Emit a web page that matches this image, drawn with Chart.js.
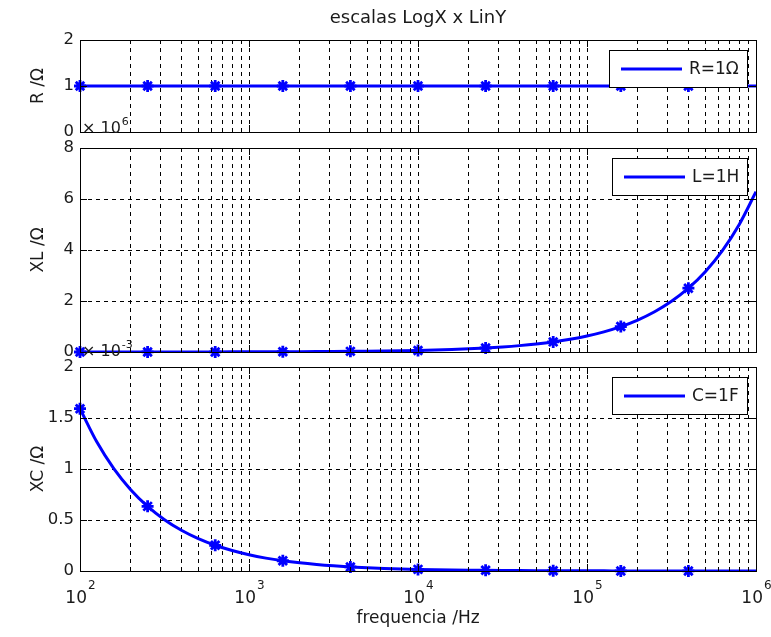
<!DOCTYPE html>
<html>
<head>
<meta charset="utf-8">
<script src="https://cdn.jsdelivr.net/npm/chart.js@4/dist/chart.umd.min.js"></script>
<style>
  html, body { margin: 0; padding: 0; background: #fff; }
  #wrap { position: relative; width: 771px; height: 637px; background: #fff; }
  #wrap canvas { position: absolute; left: 0; top: 0; }
</style>
</head>
<body>
<div id="wrap">
  <canvas id="panelR" width="771" height="637"></canvas>
  <canvas id="panelL" width="771" height="637"></canvas>
  <canvas id="panelC" width="771" height="637"></canvas>
</div>
<script>
// Frequency samples (Hz), 10 per decade from 100 Hz to 1 MHz
const freq = [
  100, 125.9, 158.5, 199.5, 251.2, 316.2, 398.1, 501.2, 631.0, 794.3,
  1000, 1259, 1585, 1995, 2512, 3162, 3981, 5012, 6310, 7943,
  10000, 12589, 15849, 19953, 25119, 31623, 39811, 50119, 63096, 79433,
  100000, 125893, 158489, 199526, 251189, 316228, 398107, 501187, 630957, 794328,
  1000000
];

// Resistance R (ohm)
const resistance = [
  1, 1, 1, 1, 1, 1, 1, 1, 1, 1,
  1, 1, 1, 1, 1, 1, 1, 1, 1, 1,
  1, 1, 1, 1, 1, 1, 1, 1, 1, 1,
  1, 1, 1, 1, 1, 1, 1, 1, 1, 1,
  1
];

// Inductive reactance XL (ohm)
const reactanceL = [
  628.3, 791.0, 995.8, 1253.7, 1578.3, 1986.9, 2501.4, 3149.0, 3964.4, 4990.9,
  6283, 7910, 9958, 12537, 15783, 19869, 25014, 31490, 39644, 49909,
  62832, 79100, 99583, 125367, 157830, 198692, 250138, 314903, 396442, 499091,
  628319, 791004, 995830, 1253667, 1578297, 1986918, 2501380, 3149030, 3964422, 4990905,
  6283185
];

// Capacitive reactance XC (ohm)
const reactanceC = [
  1.5915e-3, 1.2642e-3, 1.0042e-3, 7.977e-4, 6.336e-4, 5.033e-4, 3.998e-4, 3.176e-4, 2.522e-4, 2.004e-4,
  1.5915e-4, 1.2642e-4, 1.0042e-4, 7.977e-5, 6.336e-5, 5.033e-5, 3.998e-5, 3.176e-5, 2.522e-5, 2.004e-5,
  1.5915e-5, 1.2642e-5, 1.0042e-5, 7.977e-6, 6.336e-6, 5.033e-6, 3.998e-6, 3.176e-6, 2.522e-6, 2.004e-6,
  1.5915e-6, 1.2642e-6, 1.0042e-6, 7.977e-7, 6.336e-7, 5.033e-7, 3.998e-7, 3.176e-7, 2.522e-7, 2.004e-7,
  1.5915e-7
];

// Every 4th sample carries a star marker (the last sample has none)
const markerStep = 4;

// Log-x grid positions and decade labels
const xGridTicks = [
  100, 200, 300, 400, 500, 600, 700, 800, 900,
  1000, 2000, 3000, 4000, 5000, 6000, 7000, 8000, 9000,
  10000, 20000, 30000, 40000, 50000, 60000, 70000, 80000, 90000,
  100000, 200000, 300000, 400000, 500000, 600000, 700000, 800000, 900000,
  1000000
];
const xDecades = [100, 1000, 10000, 100000, 1000000];
const xDecadeExponents = ['2', '3', '4', '5', '6'];

// Y tick values and labels per panel
const yTicksR = [0, 1, 2];
const yLabelsR = ['0', '1', '2'];
const yTicksL = [0, 2e6, 4e6, 6e6, 8e6];
const yLabelsL = ['0', '2', '4', '6', '8'];
const yTicksC = [0, 0.0005, 0.001, 0.0015, 0.002];
const yLabelsC = ['0', '0.5', '1', '1.5', '2'];

const BLUE = '#0000ff';
const INK = '#1a1a1a';
const FONT = '"DejaVu Sans", "Liberation Sans", sans-serif';

Chart.defaults.font.family = FONT;
Chart.defaults.font.size = 16;
Chart.defaults.color = INK;

const alignPx = v => Math.round(v - 0.5) + 0.5;

function drawPowerOfTen(ctx, cx, baseY, exp, mainSize, supSize, supRise, centered) {
  ctx.font = mainSize + 'px ' + FONT;
  const w1 = ctx.measureText('10').width;
  ctx.font = supSize + 'px ' + FONT;
  const w2 = ctx.measureText(exp).width;
  const x0 = centered ? cx - (w1 + w2) / 2 : cx;
  ctx.textAlign = 'left';
  ctx.textBaseline = 'alphabetic';
  ctx.font = mainSize + 'px ' + FONT;
  ctx.fillText('10', x0, baseY);
  ctx.font = supSize + 'px ' + FONT;
  ctx.fillText(exp, x0 + w1 + 1, baseY - supRise);
}

function panelDecor(p) {
  return {
    id: 'decor',
    afterDatasetsDraw(chart) {
      const { ctx, chartArea: a, scales: { x, y } } = chart;
      ctx.save();
      ctx.setLineDash([]);
      ctx.strokeStyle = '#000';
      ctx.lineWidth = 1;

      // inward tick marks on all four sides
      ctx.beginPath();
      x.ticks.forEach(t => {
        const px = alignPx(x.getPixelForValue(t.value));
        const len = xDecades.includes(t.value) ? 7 : 4;
        ctx.moveTo(px, a.top); ctx.lineTo(px, a.top + len);
        ctx.moveTo(px, a.bottom); ctx.lineTo(px, a.bottom - len);
      });
      y.ticks.forEach(t => {
        const py = alignPx(y.getPixelForValue(t.value));
        ctx.moveTo(a.left, py); ctx.lineTo(a.left + 7, py);
        ctx.moveTo(a.right, py); ctx.lineTo(a.right - 7, py);
      });
      ctx.stroke();

      // axes box
      const l = alignPx(a.left), r = alignPx(a.right), tp = alignPx(a.top), bt = alignPx(a.bottom);
      ctx.strokeRect(l, tp, r - l, bt - tp);

      // legend box
      const label = chart.data.datasets[0].label;
      ctx.font = '17px ' + FONT;
      const tw = ctx.measureText(label).width;
      const bw = Math.round(tw + 88), bh = 37;
      const bx = Math.round(a.right - 9 - bw), by = Math.round(a.top + 10);
      ctx.fillStyle = '#fff';
      ctx.fillRect(bx, by, bw, bh);
      ctx.strokeStyle = '#000';
      ctx.lineWidth = 1;
      ctx.strokeRect(bx + 0.5, by + 0.5, bw, bh);
      ctx.strokeStyle = BLUE;
      ctx.lineWidth = 3;
      ctx.beginPath();
      ctx.moveTo(bx + 12, by + bh / 2 + 0.5);
      ctx.lineTo(bx + 73, by + bh / 2 + 0.5);
      ctx.stroke();
      ctx.fillStyle = INK;
      ctx.textAlign = 'left';
      ctx.textBaseline = 'middle';
      ctx.fillText(label, bx + 80, by + bh / 2 + 1);

      ctx.fillStyle = INK;
      // axis multiplier
      if (p.expo) {
        const base = a.top - p.expoGap;
        ctx.font = '16px ' + FONT;
        ctx.textAlign = 'left';
        ctx.textBaseline = 'alphabetic';
        ctx.fillText('\u00d7', a.left + 2, base);
        const wx = ctx.measureText('\u00d7 ').width;
        drawPowerOfTen(ctx, a.left + 2 + wx, base, p.expo, 16, 11, 8, false);
      }

      // figure title
      if (p.title) {
        ctx.font = '18px ' + FONT;
        ctx.textAlign = 'center';
        ctx.textBaseline = 'alphabetic';
        ctx.fillText(p.title, (a.left + a.right) / 2, 23);
      }

      // decade labels and x-axis title
      if (p.xTitle) {
        xDecades.forEach((v, i) => {
          drawPowerOfTen(ctx, x.getPixelForValue(v), 603, xDecadeExponents[i], 17, 12, 14, true);
        });
        ctx.font = '17px ' + FONT;
        ctx.textAlign = 'center';
        ctx.textBaseline = 'alphabetic';
        ctx.fillText(p.xTitle, (a.left + a.right) / 2, 623);
      }
      ctx.restore();
    }
  };
}

function makePanel(id, p) {
  const line = freq.map((f, i) => ({ x: f, y: p.values[i] }));
  const marks = freq
    .map((f, i) => ({ x: f, y: p.values[i], i }))
    .filter(d => d.i % markerStep === 0 && d.i < freq.length - 1)
    .map(d => ({ x: d.x, y: d.y }));
  return new Chart(document.getElementById(id), {
    type: 'line',
    data: {
      datasets: [
        {
          label: p.label,
          data: line,
          borderColor: BLUE,
          borderWidth: 3,
          pointRadius: 0,
          cubicInterpolationMode: 'monotone',
          fill: false
        },
        {
          label: p.label + ' *',
          data: marks,
          showLine: false,
          pointStyle: 'star',
          pointRadius: 6,
          borderWidth: 2.8,
          borderColor: BLUE,
          backgroundColor: BLUE,
          clip: false
        }
      ]
    },
    options: {
      responsive: false,
      animation: false,
      events: [],
      layout: { padding: { left: 0, right: 15, top: p.top, bottom: 637 - p.bottom } },
      plugins: { legend: { display: false }, tooltip: { enabled: false } },
      scales: {
        x: {
          type: 'logarithmic',
          min: 100,
          max: 1000000,
          afterBuildTicks: s => { s.ticks = xGridTicks.map(v => ({ value: v })); },
          afterFit: s => { s.height = 0; },
          ticks: { display: false, autoSkip: false },
          grid: { color: '#000', lineWidth: 1, drawTicks: false },
          border: { display: false, dash: [4, 4] }
        },
        y: {
          type: 'linear',
          min: p.yTicks[0],
          max: p.yTicks[p.yTicks.length - 1],
          afterBuildTicks: s => { s.ticks = p.yTicks.map(v => ({ value: v })); },
          afterFit: s => { s.width = 80; },
          ticks: {
            autoSkip: false,
            padding: 6,
            font: { size: 16.5 },
            color: INK,
            callback: (v, i) => p.yLabels[i]
          },
          grid: { color: '#000', lineWidth: 1, drawTicks: false },
          border: { display: false, dash: [4, 4] },
          title: {
            display: true,
            text: p.yTitle,
            color: INK,
            font: { size: 17 },
            padding: { top: 28, bottom: 0 }
          }
        }
      }
    },
    plugins: [panelDecor(p)]
  });
}

makePanel('panelR', {
  label: 'R=1\u03a9', values: resistance, yTicks: yTicksR, yLabels: yLabelsR,
  yTitle: 'R /\u03a9', top: 40, bottom: 132, title: 'escalas LogX x LinY'
});
makePanel('panelL', {
  label: 'L=1H', values: reactanceL, yTicks: yTicksL, yLabels: yLabelsL,
  yTitle: 'XL /\u03a9', top: 148, bottom: 352, expo: '6', expoGap: 15
});
makePanel('panelC', {
  label: 'C=1F', values: reactanceC, yTicks: yTicksC, yLabels: yLabelsC,
  yTitle: 'XC /\u03a9', top: 367, bottom: 571, expo: '-3', expoGap: 11,
  xTitle: 'frequencia /Hz'
});
</script>
</body>
</html>
